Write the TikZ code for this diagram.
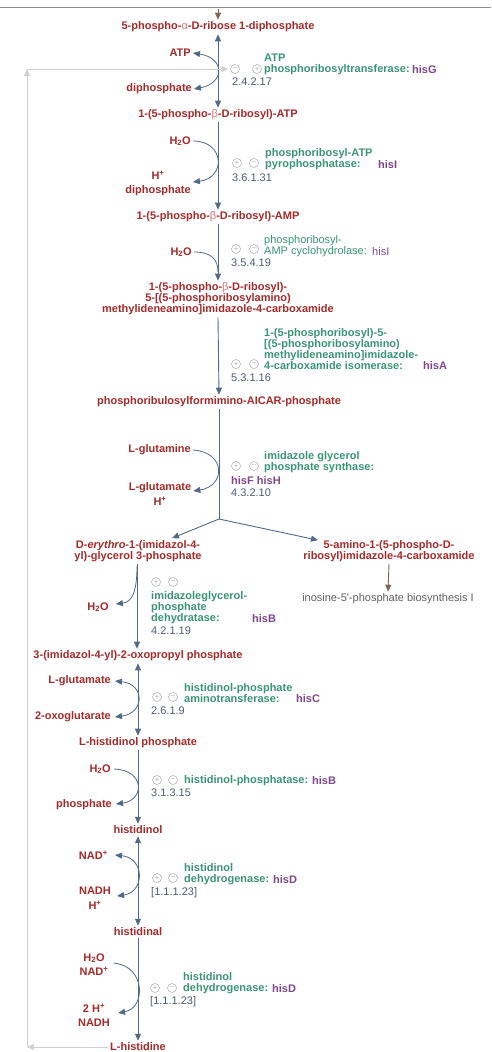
\documentclass[tikz,border=0pt]{standalone}
\usepackage{fontspec}
\setmainfont{Liberation Sans}
\usetikzlibrary{arrows.meta}
\definecolor{cpdred}{RGB}{165,42,42}
\definecolor{greekred}{RGB}{205,120,115}
\definecolor{enzgreen}{RGB}{58,148,118}
\definecolor{genepurple}{RGB}{128,70,140}
\definecolor{ecgray}{RGB}{78,92,118}
\definecolor{rxnblue}{RGB}{82,106,136}
\definecolor{fbgray}{RGB}{208,208,208}
\definecolor{linkbrown}{RGB}{128,100,88}
\definecolor{topgray}{RGB}{140,140,140}
\definecolor{pmgray}{RGB}{170,170,170}
\definecolor{pathgray}{RGB}{95,95,95}
\tikzset{
  cpd/.style={font=\fontsize{11}{11}\selectfont\bfseries, text=cpdred, inner sep=2pt, align=center},
  cpdsmall/.style={cpd, font=\fontsize{11}{14.5}\selectfont\bfseries},
  enz/.style={font=\fontsize{11}{11}\selectfont\bfseries, text=enzgreen, inner sep=0pt, align=left, anchor=west},
  enzlight/.style={font=\fontsize{11}{11}\selectfont, text=enzgreen, inner sep=0pt, align=left, anchor=west},
  gene/.style={font=\fontsize{11}{11}\selectfont\bfseries, text=genepurple, inner sep=0pt, anchor=west},
  genelight/.style={font=\fontsize{11}{11}\selectfont, text=genepurple, inner sep=0pt, anchor=west},
  ec/.style={font=\fontsize{11}{11}\selectfont, text=ecgray, inner sep=0pt, anchor=west},
  pm/.style={circle, draw=pmgray, line width=0.5pt, minimum size=9pt, inner sep=0pt, text=pmgray, font=\fontsize{7.5}{7.5}\selectfont},
  rxnline/.style={draw=rxnblue, line width=0.9pt},
  rxn/.style={draw=rxnblue, line width=0.9pt, -{Triangle[length=7pt,width=6pt]}},
  rxnboth/.style={draw=rxnblue, line width=0.9pt, {Triangle[length=7pt,width=6pt]}-{Triangle[length=7pt,width=6pt]}},
  side/.style={draw=rxnblue, line width=0.8pt},
  sidehead/.style={draw=rxnblue, line width=0.8pt, -{Triangle[length=7pt,width=6pt]}},
  sideboth/.style={draw=rxnblue, line width=0.8pt, {Triangle[length=7pt,width=6pt]}-{Triangle[length=7pt,width=6pt]}},
  fb/.style={draw=fbgray, line width=0.9pt, -{Triangle[length=7pt,width=6pt]}},
  link/.style={draw=linkbrown, line width=0.9pt, -{Triangle[length=7pt,width=6pt]}},
}
\newcommand{\gk}[1]{{\mdseries\color{greekred}#1}}
\begin{document}
\begin{tikzpicture}[x=1pt,y=1pt]
\useasboundingbox (0,0) rectangle (491,-1052);
% top bar
\coordinate (barL) at (0,-7.5);
\coordinate (barR) at (491,-7.5);
\draw[topgray, line width=1.6pt] (barL) -- (barR);
\coordinate (top) at (218,-8.5);

% compounds
\node[cpd] (c1) at (218,-27) {5-phospho-\gk{α}-D-ribose 1-diphosphate};
\node[cpd, anchor=east] (atp) at (193,-53) {ATP};
\node[cpd, anchor=east] (diph1) at (194,-89) {diphosphate};
\node[cpd] (c2) at (218,-115) {1-(5-phospho-\gk{β}-D-ribosyl)-ATP};
\node[cpd, anchor=east] (h2o1) at (193,-141) {H\textsubscript{2}O};
\node[cpdsmall] (hdiph) at (158,-183.5) {H\textsuperscript{+}\\diphosphate};
\node[cpd] (c3) at (218,-217) {1-(5-phospho-\gk{β}-D-ribosyl)-AMP};
\node[cpd, anchor=east] (h2o2) at (194,-252) {H\textsubscript{2}O};
\node[cpd] (c4) at (218,-299) {1-(5-phospho-\gk{β}-D-ribosyl)-\\5-{[}(5-phosphoribosylamino)\\methylideneamino{]}imidazole-4-carboxamide};
\node[cpd] (c5) at (219,-402) {phosphoribulosylformimino-AICAR-phosphate};
\node[cpd, anchor=east] (gln) at (193,-450) {L-glutamine};
\node[cpdsmall] (gluh) at (160,-494) {L-glutamate\\H\textsuperscript{+}};
\coordinate (jct) at (219,-519);
\node[cpd] (c6) at (138,-551) {D-\textit{erythro}-1-(imidazol-4-\\yl)-glycerol 3-phosphate};
\node[cpd] (c6b) at (389,-551) {5-amino-1-(5-phospho-D-\\ribosyl)imidazole-4-carboxamide};
\node[font=\fontsize{11}{11}\selectfont, text=pathgray, inner sep=2pt] (imp) at (388,-599) {inosine-5\textquotesingle-phosphate biosynthesis I};
\node[cpd] (h2o3) at (98,-607) {H\textsubscript{2}O};
\node[cpd] (c7) at (138,-656) {3-(imidazol-4-yl)-2-oxopropyl phosphate};
\node[cpd, anchor=east] (glu2) at (113,-681) {L-glutamate};
\node[cpd, anchor=east] (oxo) at (113,-717) {2-oxoglutarate};
\node[cpd] (c8) at (138,-743) {L-histidinol phosphate};
\node[cpd, anchor=east] (h2o4) at (113,-769) {H\textsubscript{2}O};
\node[cpd, anchor=east] (pho) at (114,-805) {phosphate};
\node[cpd] (c9) at (138,-830) {histidinol};
\node[cpd, anchor=east] (nad1) at (110,-855) {NAD\textsuperscript{+}};
\node[cpdsmall] (nadh1) at (95,-898) {NADH\\H\textsuperscript{+}};
\node[cpd] (c10) at (138,-932) {histidinal};
\node[cpdsmall] (h2onad) at (94,-964.5) {H\textsubscript{2}O\\NAD\textsuperscript{+}};
\node[cpdsmall] (hnadh) at (94,-1015) {2 H\textsuperscript{+}\\NADH};
\node[cpd] (c11) at (138,-1047) {L-histidine};

% main axis
\draw[link] (top) -- (c1.north);
\draw[rxnboth] (c1.south) -- (c2.north);
\draw[rxn] (c2.south) -- (c3.north);
\draw[rxn] (c3.south) -- (c4.north);
\draw[rxn] (c4.south) -- (c5.north);
\draw[rxnline] (c5.south) -- (jct);
\draw[rxn] (jct) -- ([xshift=34pt]c6.north);
\draw[rxn] (jct) -- ([xshift=-71pt,yshift=-2pt]c6b.north);
\draw[link] (c6b.south) -- (imp.north);
\draw[rxn] ([xshift=-1pt]c6.south) -- ([xshift=-1pt]c6.south |- c7.north);
\draw[rxnboth] (c7.south) -- (c8.north);
\draw[rxn] (c8.south) -- (c9.north);
\draw[rxnboth] (c9.south) -- (c10.north);
\draw[rxn] (c10.south) -- (c11.north);

% side reactions
\draw[sideboth] (atp.east) .. controls (225,-58) and (225,-83) .. (diph1.east);
\draw[sidehead] (h2o1.east) .. controls (225,-141) and (226,-178) .. ([yshift=1.5pt]hdiph.east);
\coordinate (m3) at (218,-272);
\draw[side] (h2o2.east) .. controls (212,-252) and (218,-260) .. (m3);
\draw[sidehead] (gln.east) .. controls (226,-452) and (226,-486) .. ([yshift=3pt]gluh.east);
\coordinate (s6) at (137,-566);
\draw[sidehead] (s6) .. controls (137,-592) and (132,-602) .. ([xshift=5pt,yshift=3pt]h2o3.east);
\draw[sideboth] ([xshift=2pt]glu2.east) .. controls (145,-684) and (145,-713) .. ([xshift=2pt]oxo.east);
\draw[sidehead] ([xshift=1pt]h2o4.east) .. controls (145,-770) and (145,-800) .. ([xshift=2pt,yshift=1pt]pho.east);
\draw[sideboth] ([xshift=5pt]nad1.east) .. controls (145,-858) and (145,-892) .. ([xshift=4pt,yshift=2pt]nadh1.east);
\draw[sidehead] ([xshift=3pt,yshift=1.5pt]h2onad.east) .. controls (146,-966) and (146,-1008) .. ([xshift=6pt,yshift=2pt]hnadh.east);

% enzymes
\node[pm] (r1m) at (235,-69) {−};
\node[pm] (r1p) at (257,-69) {+};
\node[enz] (e1) at (264,-64.5) {ATP\\phosphoribosyltransferase:};
\node[gene] (g1) at (412,-70) {hisG};
\node[ec] (ec1) at (232,-82) {2.4.2.17};

\node[pm] (r2p) at (237,-163) {+};
\node[pm] (r2m) at (254,-163) {−};
\node[enz] (e2) at (265,-159) {phosphoribosyl-ATP\\pyrophosphatase:};
\node[gene] (g2) at (378,-165) {hisI};
\node[ec] (ec2) at (232,-178) {3.6.1.31};

\node[pm] (r3p) at (236,-249) {+};
\node[pm] (r3m) at (254,-249) {−};
\node[enzlight] (e3) at (264,-246.5) {phosphoribosyl-\\AMP cyclohydrolase:};
\node[genelight] (g3) at (372,-252) {hisI};
\node[ec] (ec3) at (231,-263) {3.5.4.19};

\node[pm] (r4p) at (236,-364) {+};
\node[pm] (r4m) at (254,-364) {−};
\node[enz] (e4) at (264,-349.5) {1-(5-phosphoribosyl)-5-\\{[}(5-phosphoribosylamino)\\methylideneamino{]}imidazole-\\4-carboxamide isomerase:};
\node[gene] (g4) at (423,-366) {hisA};
\node[ec] (ec4) at (231,-378) {5.3.1.16};

\node[pm] (r5p) at (236,-466) {+};
\node[pm] (r5m) at (254,-466) {−};
\node[enz] (e5) at (264,-462.5) {imidazole glycerol\\phosphate synthase:};
\node[gene] (g5) at (231,-481) {hisF hisH};
\node[ec] (ec5) at (231,-493) {4.3.2.10};

\node[pm] (r6p) at (156,-582) {+};
\node[pm] (r6m) at (173,-582) {−};
\node[enz] (e6) at (151,-608) {imidazoleglycerol-\\phosphate\\dehydratase:};
\node[gene] (g6) at (252,-619) {hisB};
\node[ec] (ec6) at (151,-631) {4.2.1.19};

\node[pm] (r7p) at (157,-697) {+};
\node[pm] (r7m) at (173,-697) {−};
\node[enz] (e7) at (184,-693.5) {histidinol-phosphate\\aminotransferase:};
\node[gene] (g7) at (296,-699) {hisC};
\node[ec] (ec7) at (151,-711) {2.6.1.9};

\node[pm] (r8p) at (157,-780) {+};
\node[pm] (r8m) at (173,-780) {−};
\node[enz] (e8) at (184,-781) {histidinol-phosphatase:};
\node[gene] (g8) at (312,-781) {hisB};
\node[ec] (ec8) at (151,-793) {3.1.3.15};

\node[pm] (r9p) at (157,-878) {+};
\node[pm] (r9m) at (173,-878) {−};
\node[enz] (e9) at (184,-874.5) {histidinol\\dehydrogenase:};
\node[gene] (g9) at (273,-880) {hisD};
\node[ec] (ec9) at (151,-893) {[1.1.1.23]};

\node[pm] (r10p) at (155,-988) {+};
\node[pm] (r10m) at (172,-988) {−};
\node[enz] (e10) at (183,-983.5) {histidinol\\dehydrogenase:};
\node[gene] (g10) at (272,-989) {hisD};
\node[ec] (ec10) at (150,-1002) {[1.1.1.23]};

% feedback inhibition
\coordinate (fb1) at (27,-1047);
\coordinate (fb2) at (27,-69);
\draw[fb] (c11.west) -- (fb1);
\draw[fb] (fb1) -- (fb2);
\draw[fb, shorten >=2pt] (fb2) -- (r1m.west);
\end{tikzpicture}
\end{document}
